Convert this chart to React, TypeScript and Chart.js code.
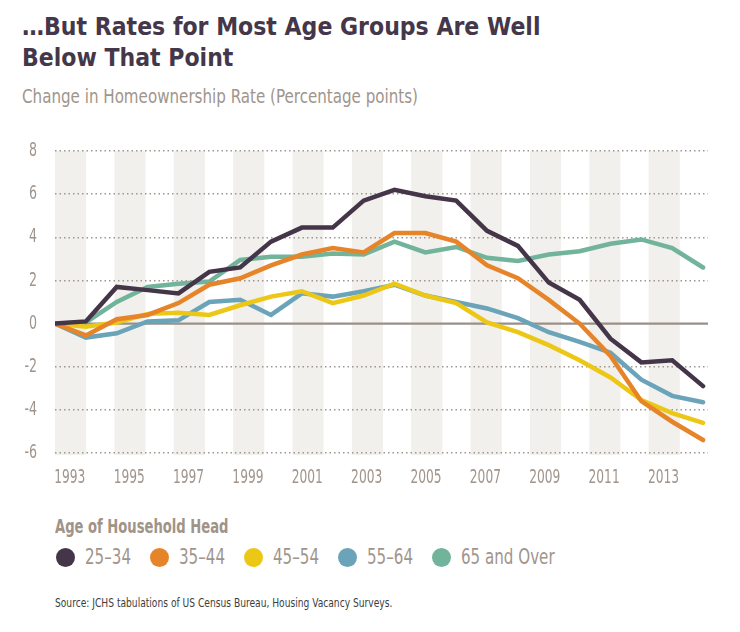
import React, { useEffect, useRef } from "react";
import { Chart, registerables } from "chart.js";

Chart.register(...registerables);

const years = [1993, 1994, 1995, 1996, 1997, 1998, 1999, 2000, 2001, 2002, 2003, 2004, 2005, 2006, 2007, 2008, 2009, 2010, 2011, 2012, 2013, 2014];
const xTickYears = [1993, 1995, 1997, 1999, 2001, 2003, 2005, 2007, 2009, 2011, 2013];
const xTickLabels = ["1993", "1995", "1997", "1999", "2001", "2003", "2005", "2007", "2009", "2011", "2013"];
const yTickValues = [-6, -4, -2, 0, 2, 4, 6, 8];
const yTickLabels = ["-6", "-4", "-2", "0", "2", "4", "6", "8"];

const seriesNames = ["25–34", "35–44", "45–54", "55–64", "65 and Over"];
const seriesColors = ["#443548", "#e6842a", "#ecc716", "#6ba4b9", "#72b39c"];

const age25to34 = [0, 0.1, 1.7, 1.55, 1.4, 2.4, 2.6, 3.8, 4.45, 4.45, 5.7, 6.2, 5.9, 5.7, 4.3, 3.6, 1.9, 1.1, -0.7, -1.8, -1.7, -2.9];
const age35to44 = [0, -0.55, 0.2, 0.4, 0.95, 1.8, 2.1, 2.7, 3.2, 3.5, 3.3, 4.2, 4.2, 3.8, 2.7, 2.1, 1.1, 0.0, -1.5, -3.6, -4.55, -5.4];
const age45to54 = [0, -0.15, 0.05, 0.45, 0.5, 0.4, 0.85, 1.25, 1.5, 0.95, 1.3, 1.85, 1.3, 0.95, 0.05, -0.4, -1.0, -1.7, -2.5, -3.55, -4.15, -4.6];
const age55to64 = [0, -0.65, -0.45, 0.1, 0.15, 1.0, 1.1, 0.4, 1.4, 1.25, 1.5, 1.8, 1.3, 1.0, 0.7, 0.25, -0.4, -0.85, -1.35, -2.6, -3.35, -3.65];
const age65plus = [0, 0.05, 1.0, 1.7, 1.85, 1.95, 2.95, 3.1, 3.1, 3.25, 3.2, 3.8, 3.3, 3.55, 3.05, 2.9, 3.2, 3.35, 3.7, 3.9, 3.5, 2.6];

const seriesValues = [age25to34, age35to44, age45to54, age55to64, age65plus];

const narrow = '"DejaVu Sans Condensed", "DejaVu Sans", sans-serif';
const labelColor = "#a0958c";

function drawSqueezed(ctx: CanvasRenderingContext2D, text: string, x: number, y: number, align: CanvasTextAlign, sx: number) {
  ctx.save();
  ctx.translate(x, y);
  ctx.scale(sx, 1);
  ctx.textAlign = align;
  ctx.textBaseline = "middle";
  ctx.fillText(text, 0, 0);
  ctx.restore();
}

const bandPlugin = {
  id: "bands",
  beforeDraw(chart: any) {
    const { ctx, chartArea } = chart;
    const xb = chart.scales.xb;
    ctx.save();
    ctx.fillStyle = "#f2f0ed";
    xTickYears.forEach((yr) => {
      const x1 = xb.getPixelForValue(yr);
      const x2 = xb.getPixelForValue(yr + 1.05);
      ctx.fillRect(x1, chartArea.top, x2 - x1, chartArea.bottom - chartArea.top + 2);
    });
    ctx.restore();
  },
  beforeDatasetsDraw(chart: any) {
    const { ctx, chartArea } = chart;
    const y0 = chart.scales.y.getPixelForValue(0);
    ctx.save();
    ctx.strokeStyle = "#9b8f87";
    ctx.lineWidth = 2.2;
    ctx.beginPath();
    ctx.moveTo(chartArea.left, y0);
    ctx.lineTo(chartArea.right, y0);
    ctx.stroke();
    ctx.restore();
  },
  afterDraw(chart: any) {
    const { ctx, chartArea } = chart;
    const xb = chart.scales.xb;
    const ys = chart.scales.y;
    ctx.save();
    ctx.fillStyle = labelColor;
    ctx.font = `20px ${narrow}`;
    yTickValues.forEach((v, i) => {
      drawSqueezed(ctx, yTickLabels[i], chartArea.left - 18, ys.getPixelForValue(v), "right", 0.7);
    });
    xTickYears.forEach((yr, i) => {
      drawSqueezed(ctx, xTickLabels[i], xb.getPixelForValue(yr + 0.5), chartArea.bottom + 25, "center", 0.68);
    });
    ctx.restore();
  },
};

function LineChart() {
  const ref = useRef<HTMLCanvasElement>(null);
  useEffect(() => {
    if (!ref.current) return;
    const chart = new Chart(ref.current, {
      type: "line",
      data: {
        datasets: seriesNames.map((name, i) => ({
          label: name,
          data: years.map((yr, j) => ({ x: yr, y: seriesValues[i][j] })),
          borderColor: seriesColors[i],
          backgroundColor: seriesColors[i],
          borderWidth: 4.5,
          pointRadius: 0,
          tension: 0,
          borderJoinStyle: "miter" as const,
          borderCapStyle: "round" as const,
          xAxisID: "x",
        })),
      },
      options: {
        animation: false,
        responsive: true,
        maintainAspectRatio: false,
        layout: { padding: { top: 31, right: 32, bottom: 11, left: 0 } },
        plugins: { legend: { display: false }, tooltip: { enabled: false }, title: { display: false } },
        scales: {
          x: { type: "linear", display: false, min: 1993, max: 2014.16 },
          xb: {
            type: "linear",
            axis: "x",
            position: "bottom",
            min: 1993,
            max: 2015,
            grid: { display: false, drawTicks: false },
            border: { display: false },
            afterBuildTicks: (scale: any) => {
              scale.ticks = xTickYears.map((yr) => ({ value: yr + 0.5 }));
            },
            afterFit: (scale: any) => {
              scale.height = 36;
            },
            ticks: { display: false, autoSkip: false },
          },
          y: {
            min: -6,
            max: 8,
            afterFit: (scale: any) => {
              scale.width = 55;
            },
            afterBuildTicks: (scale: any) => {
              scale.ticks = yTickValues.map((v) => ({ value: v }));
            },
            ticks: { display: false },
            grid: {
              drawTicks: false,
              lineWidth: 1.5,
              color: (c: any) => (c.tick && c.tick.value === 0 ? "rgba(0,0,0,0)" : "#9d958e"),
            },
            border: { display: false, dash: [1.5, 3] },
          },
        },
      },
      plugins: [bandPlugin],
    } as any);
    return () => chart.destroy();
  }, []);
  return <canvas ref={ref} />;
}

const squeeze = (sx: number): React.CSSProperties => ({
  display: "inline-block",
  transform: `scaleX(${sx})`,
  transformOrigin: "left center",
  whiteSpace: "nowrap",
});

export default function App() {
  return (
    <div style={{ position: "absolute", left: 0, top: 0, width: 740, height: 632, background: "#fff", fontFamily: narrow }}>
      <div style={{ position: "absolute", left: 22, top: 11, fontWeight: 700, fontSize: 24.5, lineHeight: "31px", color: "#45374a", whiteSpace: "nowrap" }}>
        …But Rates for Most Age Groups Are Well
        <br />
        Below That Point
      </div>
      <div style={{ position: "absolute", left: 22, top: 84, fontSize: 20, color: "#a0958c" }}>
        <span style={squeeze(0.84)}>Change in Homeownership Rate (Percentage points)</span>
      </div>
      <div style={{ position: "absolute", left: 0, top: 120, width: 740, height: 380 }}>
        <LineChart />
      </div>
      <div style={{ position: "absolute", left: 55, top: 514, fontWeight: 700, fontSize: 20, color: "#a09387" }}>
        <span style={squeeze(0.73)}>Age of Household Head</span>
      </div>
      <div style={{ position: "absolute", left: 56, top: 546, height: 22, display: "flex", alignItems: "center", fontSize: 21, color: "#a0958c" }}>
        {seriesNames.map((n, i) => (
          <div key={n} style={{ display: "flex", alignItems: "center", width: 94 }}>
            <span style={{ display: "inline-block", width: 19, height: 19, borderRadius: "50%", background: seriesColors[i], marginRight: 10, flex: "none" }} />
            <span style={squeeze(0.8)}>{n}</span>
          </div>
        ))}
      </div>
      <div style={{ position: "absolute", left: 55, top: 595, fontSize: 13, color: "#3d3d3d" }}>
        <span style={squeeze(0.78)}>Source: JCHS tabulations of US Census Bureau, Housing Vacancy Surveys.</span>
      </div>
    </div>
  );
}
